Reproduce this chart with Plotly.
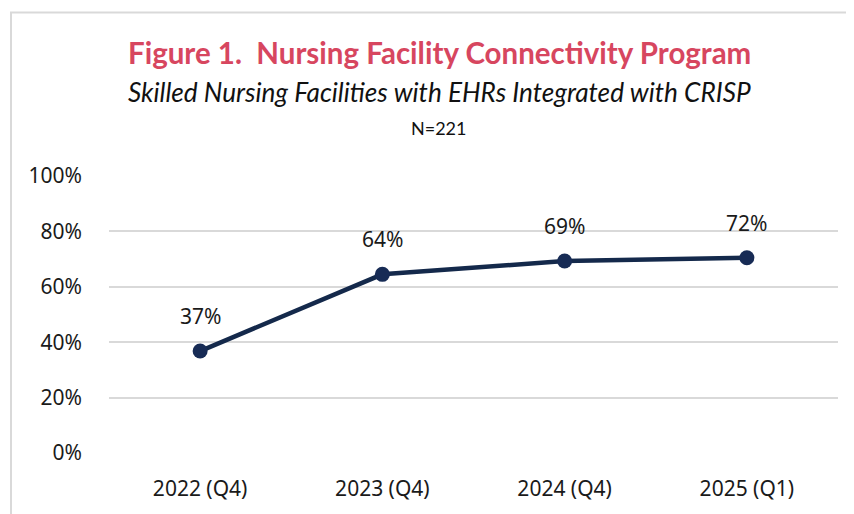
import plotly.graph_objects as go

categories = ["2022 (Q4)", "2023 (Q4)", "2024 (Q4)", "2025 (Q1)"]
values = [0.368, 0.645, 0.693, 0.705]
value_labels = ["37%", "64%", "69%", "72%"]
y_ticks = [0, 0.2, 0.4, 0.6, 0.8, 1.0]
y_tick_labels = ["0%", "20%", "40%", "60%", "80%", "100%"]

title_text = "Figure 1.  Nursing Facility Connectivity Program"
subtitle_text = "Skilled Nursing Facilities with EHRs Integrated with CRISP"
n_text = "N=221"

# page body has an 8px default margin (top/left)
OFF = 8
PW, PH = 854, 514
W, H = PW - OFF, PH - OFF
PLOT_L, PLOT_R, PLOT_T, PLOT_B = 109, 838, 176, 453  # page pixels
L, R, T, B = PLOT_L - OFF, PW - PLOT_R, PLOT_T - OFF, PH - PLOT_B
pw, ph = W - L - R, H - T - B

def px_x(x):
    return (x - PLOT_L) / pw

def px_y(y):
    return (PLOT_B - y) / ph

NAVY = "#14294b"
TXT = "#1a1a1a"
FONT = "Noto Sans"

fig = go.Figure()
fig.add_trace(go.Scatter(
    x=categories, y=values, mode="lines+markers",
    line=dict(color=NAVY, width=4.5),
    marker=dict(color="#172b55", size=15),
    hoverinfo="skip", showlegend=False,
))

annotations = []
for c, v, lab in zip(categories, values, value_labels):
    annotations.append(dict(x=c, y=v, text=lab, showarrow=False, xref="x", yref="y",
                            xanchor="center", yanchor="middle",
                            yshift=35, font=dict(family=FONT, size=21, color=TXT)))

annotations += [
    dict(x=px_x(439), y=px_y(53), xref="paper", yref="paper", text="<b>" + title_text + "</b>",
         xanchor="center", yanchor="middle",
         showarrow=False, font=dict(family="Lato", size=29.5, color="#d7465f")),
    dict(x=px_x(439), y=px_y(92), xref="paper", yref="paper", text="<i>" + subtitle_text + "</i>",
         xanchor="center", yanchor="middle",
         showarrow=False, font=dict(family="Lato", size=26.2, color="#111111")),
    dict(x=px_x(439), y=px_y(128), xref="paper", yref="paper", text=n_text,
         xanchor="center", yanchor="middle",
         showarrow=False, font=dict(family="Lato", size=18, color="#111111")),
]

fig.update_layout(
    width=W, height=H,
    margin=dict(l=L, r=R, t=T, b=B, pad=0),
    paper_bgcolor="white", plot_bgcolor="white",
    annotations=annotations,
    shapes=[dict(type="rect", xref="paper", yref="paper",
                 x0=px_x(11), x1=px_x(PW + 20), y0=px_y(PH + 20), y1=px_y(12.5),
                 line=dict(color="#d9d9d9", width=2), fillcolor="rgba(0,0,0,0)", layer="below")],
    xaxis=dict(range=[-0.5, 3.5], showgrid=False, zeroline=False, showline=False,
               ticks="", ticklabelstandoff=21,
               tickfont=dict(family=FONT, size=21, color=TXT)),
    yaxis=dict(range=[0, 1], tickvals=y_ticks, ticktext=y_tick_labels,
               showgrid=True, gridcolor="#d9d9d9", gridwidth=1.5, zeroline=False,
               showline=False, ticks="", ticklabelstandoff=26,
               tickfont=dict(family=FONT, size=21, color=TXT)),
)

fig.write_html("out.html")
